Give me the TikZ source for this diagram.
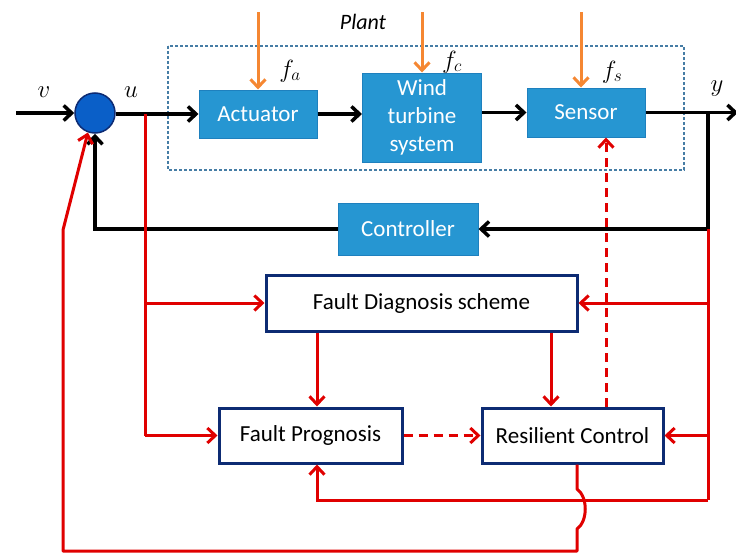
\documentclass[tikz,border=0pt]{standalone}
\usepackage{fontspec}
\setmainfont{Carlito}
\usetikzlibrary{arrows.meta,calc}
\definecolor{bfill}{RGB}{38,150,210}
\definecolor{bdraw}{RGB}{30,128,190}
\definecolor{navy}{RGB}{13,43,115}
\definecolor{rred}{RGB}{224,0,0}
\definecolor{orng}{RGB}{245,135,50}
\definecolor{sumfill}{RGB}{10,95,200}
\definecolor{plantc}{RGB}{70,125,165}
\tikzset{
  bluebox/.style={draw=bdraw,fill=bfill,line width=1pt,text=white,align=center,inner sep=0pt,
    font=\fontsize{23}{28}\selectfont},
  whitebox/.style={draw=navy,fill=white,line width=3pt,text=black,align=center,inner sep=0pt,
    font=\fontsize{23}{28}\selectfont},
  blk/.style={draw=black,line width=3.5pt,-{Straight Barb[length=8pt,width=15pt]}},
  redarr/.style={draw=rred,line width=3pt,-{Straight Barb[length=8pt,width=15pt]}},
  redline/.style={draw=rred,line width=3pt},
  orarr/.style={draw=orng,line width=3pt,-{Straight Barb[length=8pt,width=15pt]}},
  mlab/.style={font=\fontsize{24}{28}\selectfont,inner sep=0pt},
  reddash/.style={dash pattern=on 9pt off 6pt}
}
\begin{document}
\begin{tikzpicture}[x=1pt,y=-1pt]
\useasboundingbox (0,0) rectangle (736,554);
% plant box
\draw[plantc,line width=1.2pt,dash pattern=on 3pt off 2pt] (168,46) rectangle (684,170);
\node[inner sep=0pt,font=\fontsize{22}{26}\selectfont\itshape] (plant) at (363,22) {Plant};
% nodes
\node[circle,draw=navy,fill=sumfill,line width=1.5pt,minimum size=40pt,inner sep=0pt] (sum) at (95,113) {};
\node[bluebox,minimum width=118pt,minimum height=48pt] (act) at (258,114) {Actuator};
\node[bluebox,minimum width=119pt,minimum height=89pt] (wts) at (422,117.5) {Wind\\turbine\\system};
\node[bluebox,minimum width=118pt,minimum height=49pt] (sen) at (586,112.5) {Sensor};
\node[bluebox,minimum width=140pt,minimum height=52pt] (ctl) at (408,229) {Controller};
\node[whitebox,minimum width=311pt,minimum height=56pt] (fds) at (421.5,303) {Fault Diagnosis scheme};
\node[whitebox,minimum width=183pt,minimum height=55pt] (fp) at (310.5,435.5) {Fault Prognosis};
\node[whitebox,minimum width=181pt,minimum height=55pt] (rc) at (572.5,435.5) {Resilient Control};
% labels
\node[mlab] (lv) at (44,92) {$v$};
\node[mlab] (lu) at (131,92) {$u$};
\node[mlab] (ly) at (717,89) {$y$};
\node[mlab] (lfa) at (290,71) {$f_a$};
\node[mlab] (lfc) at (452,62) {$f_c$};
\node[mlab] (lfs) at (612,72) {$f_s$};
% coordinates
\coordinate (vin) at (16,113);
\coordinate (yout) at (738,112.5);
\coordinate (yb) at (708,112.5);
\coordinate (ub) at (145,114);
\coordinate (rb) at (708,500);
\coordinate (k1) at (317,500);
\coordinate (k2) at (551,0);
\coordinate (k3) at (606,0);
\coordinate (k4) at (577,0);
\coordinate (fa0) at (258,12);
\coordinate (fc0) at (422,12);
\coordinate (fs0) at (581,12);
\coordinate (lb) at (63,551);
\coordinate (lk) at (63,230);
% black signal path
\draw[blk] (vin) -- (sum.west);
\draw[blk] (sum.east |- act.west) -- (act.west);
\draw[blk] (act.east) -- (act.east -| wts.west);
\draw[blk] (wts.east |- sen.west) -- (sen.west);
\draw[blk] (sen.east) -- (yout);
\draw[blk] (yb) |- (ctl.east);
\draw[blk] (ctl.west) -| (sum.south);
% orange fault inputs
\draw[orarr] (fa0) -- (act.north);
\draw[orarr] (fc0) -- (wts.north);
\draw[orarr] (fs0) -- (fs0 |- sen.north);
% red connections
\draw[redline] (ub) -- (ub |- fp.west);
\draw[redarr] (ub |- fds.west) -- (fds.west);
\draw[redarr] (ub |- fp.west) -- (fp.west);
\draw[redline] (yb |- ctl.east) -- (rb);
\draw[redarr] (yb |- fds.east) -- (fds.east);
\draw[redarr] (yb |- rc.east) -- (rc.east);
\draw[redarr] (rb) -- (k1) -- (k1 |- fp.south);
\draw[redarr] (k1 |- fds.south) -- (k1 |- fp.north);
\draw[redarr] (k2 |- fds.south) -- (k2 |- rc.north);
\draw[redarr,reddash] (fp.east) -- (rc.west);
\draw[redarr,reddash] (k3 |- rc.north) -- (k3 |- sen.south);
\draw[redarr,line join=round] (k4 |- rc.south) -- (577,489) .. controls (588,497) and (588,521) .. (577,529) -- (577,551) -- (lb) -- (lk) -- (sum.-110);
\end{tikzpicture}
\end{document}
